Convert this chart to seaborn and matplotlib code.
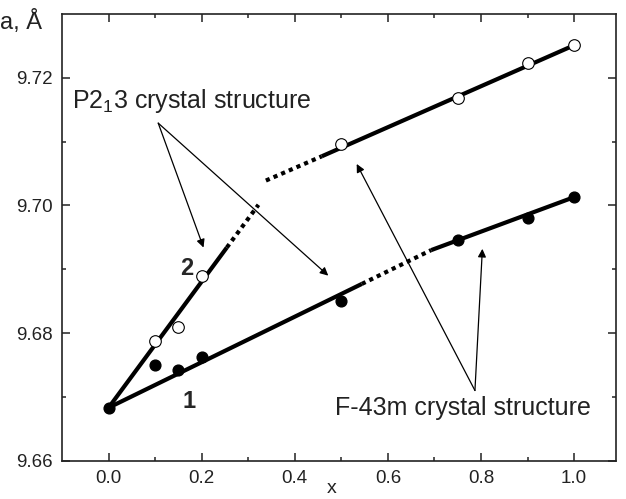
import matplotlib
matplotlib.use("Agg")
import matplotlib.pyplot as plt
import seaborn as sns
import pandas as pd

# ---- data ----
x_pts = [0.0, 0.1, 0.15, 0.2, 0.5, 0.75, 0.9, 1.0]
a_series1 = [9.6683, 9.6750, 9.6742, 9.6762, 9.6850, 9.6946, 9.6980, 9.7013]   # filled circles (1)
x_pts2 = [0.1, 0.15, 0.2, 0.5, 0.75, 0.9, 1.0]
a_series2 = [9.6787, 9.6810, 9.6890, 9.7097, 9.7169, 9.7223, 9.7251]          # open circles (2)

# fitted lines: solid and dotted pieces
fit1_solid_a_x = [0.0, 0.544]
fit1_solid_a_y = [9.6683, 9.6877]
fit1_dot_x = [0.544, 0.693]
fit1_dot_y = [9.6877, 9.6930]
fit1_solid_b_x = [0.693, 1.0]
fit1_solid_b_y = [9.6930, 9.7013]

fit2_solid_a_x = [0.0, 0.254]
fit2_solid_a_y = [9.6683, 9.6934]
fit2_dot_a_x = [0.254, 0.322]
fit2_dot_a_y = [9.6934, 9.7001]
fit2_dot_b_x = [0.338, 0.458]
fit2_dot_b_y = [9.7039, 9.7077]
fit2_solid_b_x = [0.458, 1.0]
fit2_solid_b_y = [9.7077, 9.7251]

x_ticks = [0.0, 0.2, 0.4, 0.6, 0.8, 1.0]
y_ticks = [9.66, 9.68, 9.70, 9.72]

sns.set_style("ticks")
plt.rcParams['font.family'] = ['Liberation Sans', 'DejaVu Sans']
plt.rcParams['mathtext.fontset'] = 'custom'
plt.rcParams['mathtext.rm'] = 'Liberation Sans'
plt.rcParams['mathtext.it'] = 'Liberation Sans:italic'

fig = plt.figure(figsize=(6.26, 4.99), dpi=100)
ax = fig.add_axes([62/626, 1-460.7/499, (616-62)/626, (460.7-14)/499])

lw = 3.0
def seg(xs, ys, dotted=False):
    d = pd.DataFrame({'x': xs, 'a': ys})
    sns.lineplot(data=d, x='x', y='a', ax=ax, color='black', lw=lw,
                 linestyle=(0, (1, 1)) if dotted else '-', sort=False,
                 solid_capstyle='butt', dash_capstyle='butt', zorder=2)

seg(fit1_solid_a_x, fit1_solid_a_y)
seg(fit1_dot_x, fit1_dot_y, True)
seg(fit1_solid_b_x, fit1_solid_b_y)
seg(fit2_solid_a_x, fit2_solid_a_y)
seg(fit2_dot_a_x, fit2_dot_a_y, True)
seg(fit2_dot_b_x, fit2_dot_b_y, True)
seg(fit2_solid_b_x, fit2_solid_b_y)

d1 = pd.DataFrame({'x': x_pts, 'a': a_series1})
d2 = pd.DataFrame({'x': x_pts2, 'a': a_series2})
sns.scatterplot(data=d1, x='x', y='a', ax=ax, color='black', s=60,
                edgecolor='black', linewidth=1, zorder=3)
sns.scatterplot(data=d2, x='x', y='a', ax=ax, color='white', s=70,
                edgecolor='black', linewidth=0.8, zorder=3)

ax.set_xlim(-0.1, 1.09)
ax.set_ylim(9.66, 9.73)
ax.set_xticks(x_ticks)
ax.set_xticklabels([f"{v:.1f}" for v in x_ticks])
ax.set_yticks(y_ticks)
ax.set_yticklabels([f"{v:.2f}" for v in y_ticks])
ax.set_xticks([0.1, 0.3, 0.5, 0.7, 0.9], minor=True)
ax.set_yticks([9.67, 9.69, 9.71], minor=True)
ax.tick_params(which='both', direction='in', top=True, right=True,
               labelsize=13.5, colors='#222222', width=1.1)
ax.tick_params(which='major', length=6, pad=7)
ax.tick_params(which='minor', length=3)
for s in ax.spines.values():
    s.set_linewidth(1.2)
    s.set_color('#222222')
    s.set_visible(True)

ax.set_ylabel('')
ax.set_xlabel('')
fig.text(332/626, 1-493/499, 'x', fontsize=14, color='#222222', ha='center', va='baseline')
fig.text(0.0, 1-29/499, 'a, Å', fontsize=17, color='#222222', va='baseline', ha='left')

# annotations
ax.text(0.172, 9.6692, '1', fontsize=17, fontweight='bold', ha='center', va='center')
ax.text(0.168, 9.6901, '2', fontsize=17, fontweight='bold', ha='center', va='center')

ap = dict(arrowstyle='-|>', color='black', lw=0.9, mutation_scale=12, shrinkA=0, shrinkB=0)
ax.text(-0.078, 9.7164, r'P2$_\mathregular{1}$3 crystal structure', fontsize=18,
        ha='left', va='center', color='#222222')
ax.annotate('', xy=(0.204, 9.6934), xytext=(0.1067, 9.7129), arrowprops=ap)
ax.annotate('', xy=(0.472, 9.6890), xytext=(0.1067, 9.7129), arrowprops=ap)

ax.text(0.486, 9.6682, 'F-43m crystal structure', fontsize=18,
        ha='left', va='center', color='#222222')
ax.annotate('', xy=(0.803, 9.6932), xytext=(0.787, 9.6710), arrowprops=ap)
ax.annotate('', xy=(0.533, 9.7065), xytext=(0.787, 9.6710), arrowprops=ap)

fig.savefig('out.png', dpi=100)
